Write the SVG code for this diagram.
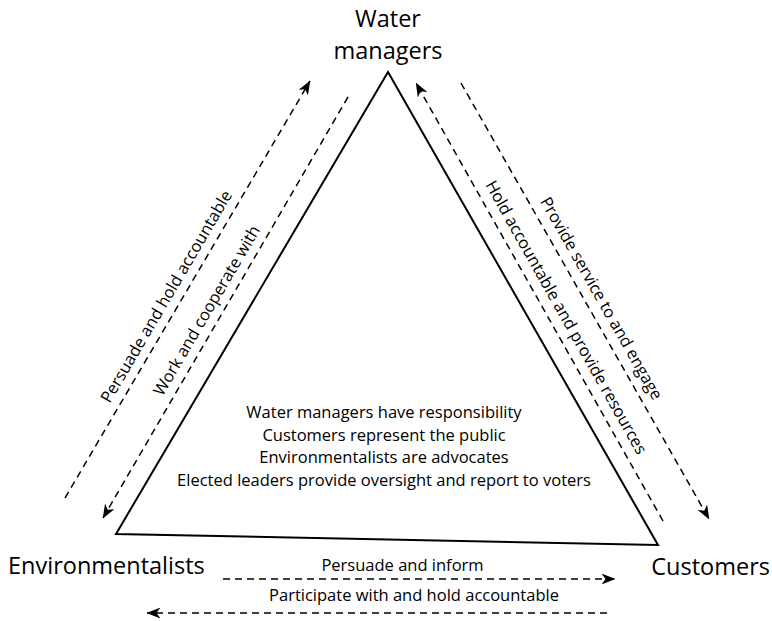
<svg xmlns="http://www.w3.org/2000/svg" width="772" height="621" viewBox="0 0 772 621">
<style>
text{font-family:"Open Sans","Noto Sans","Liberation Sans",sans-serif;fill:#000}
.big{font-size:23.5px}
.lbl{font-size:16.5px}
.tri{fill:#fff;stroke:#000;stroke-width:2;stroke-linejoin:miter}
.dash{fill:none;stroke:#000;stroke-width:1.5;stroke-dasharray:7 5}
</style>
<defs>
<marker id="ah" markerUnits="userSpaceOnUse" viewBox="0 0 14 11" refX="13.5" refY="5.5" markerWidth="14" markerHeight="11" orient="auto">
<path d="M14,5.5 L0,0 L4,5.5 L0,11 Z" fill="#000"/>
</marker>
</defs>
<rect width="772" height="621" fill="#fff"/>
<g id="triangle">
<polygon class="tri" points="388,72 116,534 658,545"/>
<g text-anchor="middle" class="lbl">
<text x="384" y="418">Water managers have responsibility</text>
<text x="384" y="441">Customers represent the public</text>
<text x="384" y="463">Environmentalists are advocates</text>
<text x="384" y="486">Elected leaders provide oversight and report to voters</text>
</g>
</g>
<g id="water-managers">
<text class="big" x="388" y="27" text-anchor="middle">Water</text>
<text class="big" x="388" y="59" text-anchor="middle">managers</text>
</g>
<g id="environmentalists">
<text class="big" x="8" y="574">Environmentalists</text>
</g>
<g id="customers">
<text class="big" x="770" y="575" text-anchor="end">Customers</text>
</g>
<g id="connectors">
<line class="dash" x1="65" y1="498" x2="310" y2="81" marker-end="url(#ah)"/>
<line class="dash" x1="348" y1="97" x2="103" y2="518" marker-end="url(#ah)"/>
<line class="dash" x1="663" y1="521" x2="416" y2="83" marker-end="url(#ah)"/>
<line class="dash" x1="461" y1="83" x2="709" y2="519" marker-end="url(#ah)"/>
<line class="dash" x1="223" y1="579" x2="615" y2="579" marker-end="url(#ah)"/>
<line class="dash" x1="607" y1="613" x2="147" y2="613" marker-end="url(#ah)"/>
<g class="lbl" text-anchor="middle">
<text transform="translate(171.2,299.4) rotate(-59.6)">Persuade and hold accountable</text>
<text transform="translate(211.6,313.4) rotate(-59.6)">Work and cooperate with</text>
<text transform="translate(561.2,320.1) rotate(60.6)">Hold accountable and provide resources</text>
<text transform="translate(596.5,301.1) rotate(60.4)">Provide service to and engage</text>
<text x="402.5" y="571">Persuade and inform</text>
<text x="414" y="601">Participate with and hold accountable</text>
</g>
</g>
</svg>
